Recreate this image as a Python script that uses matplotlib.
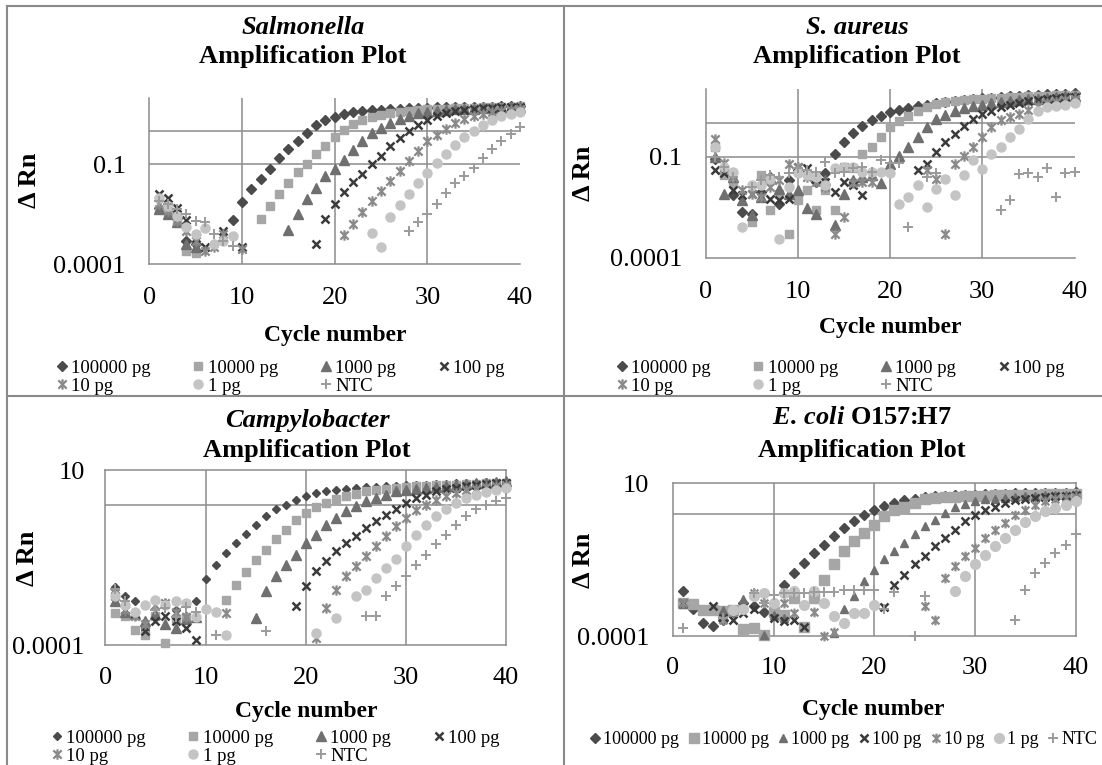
import numpy as np
import matplotlib
matplotlib.use('Agg')
import matplotlib.pyplot as plt
from matplotlib.lines import Line2D
from matplotlib.path import Path
from matplotlib.ticker import NullLocator

plt.rcParams['font.family'] = ['Liberation Serif', 'DejaVu Serif']
plt.rcParams['mathtext.fontset'] = 'custom'
plt.rcParams['mathtext.it'] = 'Liberation Serif:italic:bold'
plt.rcParams['mathtext.rm'] = 'Liberation Serif:bold'

nan = np.nan
cycles = np.arange(1, 41)
labels = ['100000 pg', '10000 pg', '1000 pg', '100 pg', '10 pg', '1 pg', 'NTC']

# ---- Salmonella (delta Rn per cycle, nan = not plotted)
sal_100000 = [5e-3, 3.5e-3, 2.5e-3, 5e-4, 4e-4, nan, nan, nan, 2.1e-3, 7.2e-3,
              0.018, 0.037, 0.071, 0.15, 0.28, 0.51, 0.89, 1.5, 2.1, 2.7,
              3.2, 3.6, 3.9, 4.2, 4.4, 4.6, 4.7, 4.8, 4.9, 5.0,
              5.1, 5.1, 5.2, 5.3, 5.3, 5.4, 5.4, 5.5, 5.5, 5.6]
sal_10000 = [4.5e-3, 3.2e-3, 1.8e-3, 2.5e-4, 2.2e-4, nan, nan, nan, nan, nan,
             nan, 2.3e-3, 5.5e-3, 0.013, 0.028, 0.058, 0.1, 0.2, 0.36, 0.65,
             1.1, 1.6, 2.1, 2.6, 3.1, 3.5, 3.8, 4.1, 4.3, 4.5,
             4.6, 4.7, 4.8, 4.9, 5.0, 5.1, 5.2, 5.3, 5.4, 5.5]
sal_1000 = [4.5e-3, 3.2e-3, 1.8e-3, 4e-4, 3.2e-4, nan, nan, nan, nan, nan,
            nan, nan, nan, nan, 1.05e-3, 3.2e-3, 8.9e-3, 0.02, 0.045, 0.075,
            0.135, 0.27, 0.5, 0.87, 1.26, 1.7, 2.3, 2.9, 3.4, 3.8,
            4.1, 4.3, 4.5, 4.6, 4.7, 4.8, 4.9, 5.0, 5.1, 5.2]
sal_100 = [0.0126, 0.01, 5e-3, 2.1e-3, 6.3e-4, 3.2e-4, nan, 1e-3, nan, 3.2e-4,
           nan, nan, nan, nan, nan, nan, nan, 4.2e-4, 2.3e-3, 6.5e-3,
           0.0145, 0.029, 0.05, 0.1, 0.18, 0.35, 0.62, 0.98, 1.55, 2.2,
           2.75, 3.4, 4.0, 4.3, 4.6, 4.8, 5.0, 5.1, 5.3, 5.4]
sal_10 = [6.3e-3, 4e-3, 2e-3, 1e-3, 5e-4, 2.5e-4, 3.2e-4, 8e-4, nan, 2.8e-4,
          nan, nan, nan, nan, nan, nan, nan, nan, nan, nan,
          7.4e-4, 1.6e-3, 3.6e-3, 8.1e-3, 0.016, 0.032, 0.063, 0.126, 0.25, 0.49,
          0.78, 1.17, 1.74, 2.3, 2.9, 3.3, 3.7, 4.1, 4.4, 4.7]
sal_1 = [0.01, 5.8e-3, 2.9e-3, 1.3e-3, 8.1e-4, 1.26e-3, 4e-4, 5e-4, 6.9e-4, nan,
         nan, nan, nan, nan, nan, nan, nan, nan, nan, nan,
         nan, nan, nan, 8.7e-4, 3.2e-4, 2.6e-3, 6.2e-3, 0.013, 0.028, 0.054,
         0.107, 0.2, 0.38, 0.65, 1.0, 1.5, 2.1, 2.75, 3.3, 3.8]
sal_ntc = [7.9e-3, 6.3e-3, 4.6e-3, 3.2e-3, 2e-3, 1.8e-3, 8.1e-4, 5e-4, 3.5e-4, nan,
           nan, nan, nan, nan, nan, nan, nan, nan, nan, nan,
           nan, nan, nan, nan, nan, nan, nan, 1e-3, 1.8e-3, 3.2e-3,
           6.5e-3, 0.014, 0.027, 0.045, 0.079, 0.16, 0.28, 0.49, 0.83, 1.3]

# ---- S. aureus
aur_100000 = [0.087, 0.032, 7.1e-3, 2.3e-3, 2e-3, 8.9e-3, 0.025, 4e-3, 0.02, 0.04,
              0.035, 0.018, 0.032, 0.12, 0.27, 0.52, 0.83, 1.23, 1.66, 2.1,
              2.45, 2.75, 3.2, 3.5, 4.0, 4.3, 4.6, 4.9, 5.1, 5.4,
              5.6, 5.9, 6.2, 6.3, 6.6, 6.8, 7.1, 7.2, 7.4, 7.6]
aur_10000 = [0.19, 0.028, 0.016, nan, 1.15e-3, 0.028, 2.6e-3, 7.9e-3, 5e-4, 5e-3,
             0.01, 2.6e-3, 0.01, 2.6e-3, 0.049, 0.045, 0.12, 0.19, 0.38, 0.74,
             1.17, 1.66, 2.3, 3.0, 3.6, 4.2, 4.6, 4.9, 5.1, 5.2,
             5.4, 5.6, 5.8, 6.0, 6.2, 6.3, 6.5, 6.6, 6.8, 7.0]
aur_1000 = [0.098, 7.9e-3, 0.025, 5e-3, 1.8e-3, 6.3e-3, 0.025, 0.011, 7.9e-3, 0.01,
            2.9e-3, 2e-3, 0.02, 9.3e-4, 7.9e-3, 0.02, 0.025, 0.028, 0.016, 0.062,
            0.107, 0.19, 0.38, 0.78, 1.3, 1.7, 2.3, 2.75, 3.1, 3.5,
            3.8, 4.1, 4.4, 4.7, 5.0, 5.3, 5.6, 5.9, 6.2, 6.5]
aur_100 = [0.039, 0.032, 0.01, 7.1e-3, 7.9e-3, 6.3e-3, 5.6e-3, 5e-3, 5.6e-3, 0.049,
           0.045, 0.022, 0.018, 8.9e-3, 0.018, 0.014, 7.1e-3, nan, nan, nan,
           nan, nan, 0.039, 0.062, 0.135, 0.27, 0.47, 0.83, 1.3, 1.9,
           2.3, 2.9, 3.5, 4.0, 4.5, 4.9, 5.2, 5.5, 5.8, 6.0]
aur_10 = [0.34, 0.063, 0.025, 0.01, 7.9e-3, 6.3e-3, 0.0126, 0.02, 0.062, 0.049,
          0.025, 0.018, 0.0126, 5e-4, 1.6e-3, 0.016, 0.018, 0.018, nan, nan,
          nan, nan, nan, 0.039, 0.022, 5e-4, 0.062, 0.107, 0.19, 0.38,
          0.74, 1.23, 1.48, 1.9, 2.5, 3.2, 3.8, 4.3, 4.7, 5.1]
aur_1 = [0.19, 0.049, 0.035, 8.3e-4, 0.014, 0.014, 0.022, 3.7e-4, 0.0126, 0.032,
         0.028, 0.025, 0.014, 0.045, 0.049, 0.049, 0.035, 0.035, 0.035, 0.032,
         4e-3, 6.3e-3, 0.014, 3.2e-3, 0.011, 0.022, 7.1e-3, 0.028, 0.078, 0.044,
         0.12, 0.19, 0.38, 0.66, 1.3, 2.2, 2.9, 3.2, 3.5, 3.8]
aur_ntc = [0.1, 0.049, 0.025, nan, 0.0126, 0.02, 0.028, 0.025, 0.032, 0.045,
           0.04, 0.035, 0.071, 0.032, 0.035, 0.045, 0.05, 0.035, 0.079, 0.063,
           0.063, 8.3e-4, nan, 0.025, 0.032, nan, nan, nan, nan, nan,
           nan, 2.6e-3, 5e-3, 0.031, 0.032, 0.025, 0.045, 6.3e-3, 0.032, 0.035]

# ---- Campylobacter
cam_100000 = [4.7e-3, 2.5e-3, 1.8e-3, 2.8e-4, 2e-3, 1.6e-3, 1.05e-3, 6.8e-4, 1.8e-3, 7.6e-3,
              0.02, 0.044, 0.083, 0.155, 0.28, 0.49, 0.76, 1.05, 1.45, 1.9,
              2.2, 2.5, 2.8, 3.0, 3.1, 3.3, 3.4, 3.5, 3.6, 3.7,
              3.8, 3.9, 4.0, 4.1, 4.2, 4.3, 4.4, 4.5, 4.6, 4.7]
cam_10000 = [8.3e-4, 7e-4, 2.8e-4, 2e-4, 6.8e-4, 1.2e-4, 5.6e-4, 6.3e-4, nan, nan,
             nan, 2e-3, 5.4e-3, 0.0123, 0.027, 0.054, 0.11, 0.2, 0.37, 0.6,
             0.89, 1.17, 1.5, 1.8, 2.1, 2.5, 2.7, 2.9, 3.1, 3.3,
             3.5, 3.6, 3.7, 3.8, 3.9, 4.0, 4.1, 4.2, 4.3, 4.4]
cam_1000 = [1.8e-3, 8.9e-4, 8e-4, 5e-4, 8e-4, 4e-4, 3.2e-4, 5.6e-4, 6.3e-4, nan,
            nan, nan, nan, nan, 6e-4, 3.5e-3, 9.3e-3, 0.02, 0.039, 0.083,
            0.145, 0.28, 0.44, 0.68, 0.93, 1.3, 1.6, 2.0, 2.5, 2.8,
            3.0, 3.2, 3.4, 3.6, 3.8, 4.0, 4.2, 4.4, 4.6, 4.8]
cam_100 = [2.5e-3, 1e-3, 8e-4, 2.5e-4, 5e-4, 6.8e-4, 5e-4, 3.2e-4, 1.4e-4, nan,
           nan, nan, nan, nan, nan, nan, nan, nan, 1.35e-3, 5e-3,
           0.013, 0.025, 0.049, 0.083, 0.135, 0.22, 0.35, 0.54, 0.79, 1.17,
           1.6, 2.0, 2.5, 2.9, 3.2, 3.5, 3.8, 4.0, 4.2, 4.4]
cam_10 = [3.2e-3, 1e-3, 7e-4, 4e-4, 1.4e-3, 1.6e-3, 8.9e-4, 6.3e-4, nan, nan,
          nan, 8.3e-4, nan, nan, nan, nan, nan, nan, nan, nan,
          1.6e-4, 1.2e-3, 3.7e-3, 9.3e-3, 0.019, 0.036, 0.068, 0.13, 0.25, 0.44,
          0.72, 1.05, 1.45, 1.8, 2.2, 2.8, 3.0, 3.3, 3.6, 3.9]
cam_1 = [2.5e-3, 1.4e-3, 8.9e-4, 1.4e-3, 2e-3, 1.4e-3, 1.8e-3, 1.6e-3, 6.3e-4, 1.1e-3,
         8.9e-4, 2e-4, nan, nan, nan, nan, nan, nan, nan, nan,
         2.2e-4, nan, 6e-4, nan, 2.5e-3, 3.9e-3, 8.3e-3, 0.016, 0.03, 0.07,
         0.14, 0.28, 0.5, 0.8, 1.2, 1.6, 2.0, 2.4, 2.8, 3.2]
cam_ntc = [4e-3, 1.8e-3, nan, nan, 1e-3, 1.2e-3, 6.3e-4, 1.26e-3, 8.9e-4, nan,
           2e-4, nan, nan, nan, nan, 2.5e-4, nan, nan, nan, nan,
           nan, nan, nan, nan, nan, 6.8e-4, 6.8e-4, 2.5e-3, 4.9e-3, 9.3e-3,
           0.02, 0.039, 0.076, 0.145, 0.28, 0.49, 0.76, 1.05, 1.3, 1.6]

# ---- E. coli O157:H7
eco_100000 = [3e-3, 8e-4, 2.7e-4, 2.2e-4, 3.5e-4, 6.3e-4, 1.2e-3, 1e-3, 6.3e-4, 8e-4,
              4.8e-3, 0.0117, 0.025, 0.052, 0.098, 0.19, 0.34, 0.56, 0.93, 1.35,
              1.8, 2.3, 2.7, 3.0, 3.5, 3.7, 3.9, 4.0, 4.1, 4.2,
              4.3, 4.4, 4.5, 4.6, 4.6, 4.7, 4.7, 4.8, 4.8, 4.9]
eco_10000 = [1.2e-3, 1.1e-3, 7.4e-4, 7.4e-4, 6.6e-4, 7.4e-4, 1.7e-4, 1.9e-4, 1.1e-4, 6.3e-4,
             5e-4, 1.8e-3, 2e-4, 1.8e-3, 7.1e-3, 0.022, 0.059, 0.126, 0.23, 0.44,
             0.81, 1.35, 1.7, 2.2, 2.9, 3.2, 3.4, 3.6, 3.7, 3.8,
             3.9, 4.0, 4.1, 4.1, 4.2, 4.2, 4.3, 4.3, 4.4, 4.4]
eco_1000 = [1.1e-3, nan, nan, nan, 7.4e-4, nan, 1.6e-3, nan, 1.1e-4, 5e-4,
            4e-4, nan, nan, nan, nan, 1.26e-4, 8e-4, 2e-3, 6.2e-3, 0.014,
            0.032, 0.059, 0.11, 0.21, 0.39, 0.63, 1.05, 1.6, 2.1, 2.5,
            2.9, 3.1, 3.3, 3.5, 3.7, 3.9, 4.0, 4.1, 4.2, 4.3]
eco_100 = [1.2e-3, nan, nan, 1e-3, 4e-4, 3.5e-4, 5.6e-4, 8e-4, nan, 4e-4,
           3.2e-4, 3.5e-4, 2e-4, nan, nan, nan, nan, nan, nan, nan,
           8.7e-4, 4.8e-3, 0.0102, 0.022, 0.041, 0.085, 0.16, 0.3, 0.56, 0.93,
           1.35, 1.7, 2.2, 2.7, 3.0, 3.2, 3.5, 3.7, 3.9, 4.2]
eco_10 = [1.2e-3, nan, nan, nan, 3.5e-4, 6.3e-4, nan, 2.5e-3, 1.26e-3, nan,
          1.26e-3, 5.6e-4, nan, 6.3e-4, 1e-4, 1.4e-4, nan, nan, nan, nan,
          nan, nan, nan, nan, 1e-3, 3.5e-4, 7.9e-3, 0.019, 0.041, 0.076,
          0.16, 0.3, 0.5, 0.93, 1.35, 1.95, 2.5, 2.9, 3.3, 3.6]
eco_1 = [nan, nan, nan, nan, nan, 7.1e-4, 8e-4, 2e-3, 2.6e-3, 1.2e-3,
         2.6e-3, 3e-3, 1.07e-3, 3e-3, 1.2e-3, 4.5e-4, 2.7e-4, 5.8e-4, 5.8e-4, 1.07e-3,
         nan, nan, nan, nan, nan, nan, nan, 3e-3, 9.1e-3, 0.022,
         0.046, 0.085, 0.16, 0.3, 0.52, 0.85, 1.2, 1.5, 1.95, 2.5]
eco_ntc = [1.9e-4, nan, nan, nan, 4e-4, nan, nan, 2.5e-3, 1.26e-3, 2.2e-3,
           2.5e-3, 2.5e-3, 2.5e-3, 2.8e-3, 2.8e-3, 2.8e-3, 3.2e-3, 3.2e-3, 3.2e-3, 3.2e-3,
           8e-4, 2.8e-3, nan, 1.05e-4, 2e-3, nan, nan, nan, nan, nan,
           nan, nan, nan, 3.5e-4, 3.3e-3, 0.0117, 0.025, 0.052, 0.098, 0.21]

W, H = 1102, 765
fig = plt.figure(figsize=(W / 100, H / 100), dpi=100)

grid_col = '#8c8c8c'
line_col = '#8a8a8a'

# excel "star" marker: x with a vertical bar through it
star = Path([(-0.8, -0.8), (0.8, 0.8), (-0.8, 0.8), (0.8, -0.8), (0, -1), (0, 1)],
            [Path.MOVETO, Path.LINETO, Path.MOVETO, Path.LINETO, Path.MOVETO, Path.LINETO])

markers = ['D', 's', '^', 'x', star, 'o', '+']
colors = ['#4b4b4b', '#a6a6a6', '#6f6f6f', '#3a3a3a', '#8a8a8a', '#c4c4c4', '#9b9b9b']
edge_w = [1.0, 1.0, 1.0, 1.8, 1.6, 1.0, 1.4]

# legend is filled column by column; this order gives the row-wise reading
leg_order = [0, 4, 1, 5, 2, 6, 3]


def fx(x):
    return x / W


def fy(y):
    return 1 - y / H


def add_panel(box, series, sizes, yticks, ytext, hgrid, boxed, xpad, ypad):
    left, top, right, bottom = box
    ax = fig.add_axes([fx(left), fy(bottom), (right - left) / W, (bottom - top) / H])
    for x in (10, 20, 30):
        ax.axvline(x, color=grid_col, lw=1.1, zorder=0)
    for y in hgrid:
        ax.axhline(y, color=grid_col, lw=1.1, zorder=0)
    handles = []
    for vals, lab, m, c, ew, ms in zip(series, labels, markers, colors, edge_w, sizes):
        h, = ax.plot(cycles, vals, linestyle='none', marker=m, ms=ms, color=c,
                     mfc=c, mec=c, mew=ew, clip_on=False, label=lab, zorder=3)
        handles.append(h)
    ax.set_yscale('log')
    ax.set_xlim(0, 40)
    ax.set_ylim(1e-4, 10)
    ax.set_xticks([0, 10, 20, 30, 40])
    ax.set_yticks(yticks, ytext)
    ax.yaxis.set_minor_locator(NullLocator())
    ax.tick_params(axis='x', length=0, pad=xpad, labelsize=19)
    ax.tick_params(axis='y', length=0, pad=ypad, labelsize=19)
    for side, sp in ax.spines.items():
        sp.set_color(grid_col)
        sp.set_linewidth(1.1)
        if side in ('top', 'right') and not boxed:
            sp.set_visible(False)
    ax.set_facecolor('none')
    return ax, handles


def titles(cx, y1, y2, species, italic=True):
    fig.text(fx(cx), fy(y1), species, ha='center', va='center', fontsize=19,
             fontstyle='italic' if italic else 'normal', fontweight='bold')
    fig.text(fx(cx), fy(y2), 'Amplification Plot', ha='center', va='center',
             fontsize=19, fontweight='bold')


def axis_labels(xl, yl):
    fig.text(fx(xl[0]), fy(xl[1]), 'Cycle number', ha='center', va='center',
             fontsize=17, fontweight='bold')
    fig.text(fx(yl[0]), fy(yl[1]), 'Δ Rn', ha='center', va='center', rotation=90,
             fontsize=19, fontweight='bold')


def four_col_legend(handles, x, y):
    fig.legend(handles=[handles[i] for i in leg_order], labels=[labels[i] for i in leg_order],
               loc='center left', bbox_to_anchor=(fx(x), fy(y)), ncol=4, frameon=False,
               fontsize=13.5, handlelength=0.7, handletextpad=0.15, columnspacing=2.2,
               labelspacing=0.05, borderpad=0, borderaxespad=0)


sizes_top = [5.5, 6, 6.5, 6, 7.5, 6.5, 7]

# Salmonella
ax1, h1 = add_panel((149.3, 97.7, 520, 264.3),
                    [sal_100000, sal_10000, sal_1000, sal_100, sal_10, sal_1, sal_ntc],
                    sizes_top, [1e-4, 0.1], ['0.0001', '0.1'], [0.1, 1], False, 16.5, 17)
titles(303, 27, 57, 'Salmonella')
axis_labels((335, 335), (30, 180))
four_col_legend(h1, 55, 377)

# S. aureus
ax2, h2 = add_panel((705.6, 89.3, 1074.5, 257.7),
                    [aur_100000, aur_10000, aur_1000, aur_100, aur_10, aur_1, aur_ntc],
                    sizes_top, [1e-4, 0.1], ['0.0001', '0.1'], [0.1, 1], False, 16.5, 17)
titles(857, 27, 57, 'S. aureus')
axis_labels((890, 328), (584, 173))
four_col_legend(h2, 615, 377)

# Campylobacter
ax3, h3 = add_panel((105.4, 470.3, 506, 645.3),
                    [cam_100000, cam_10000, cam_1000, cam_100, cam_10, cam_1, cam_ntc],
                    [4, 6, 6.5, 6, 7.5, 6.5, 7], [1e-4, 10], ['0.0001', '10'], [1], True, 15.5, 15)
titles(307, 420, 451, 'Campylobacter')
axis_labels((306, 711), (28, 558))
four_col_legend(h3, 50, 747)

# E. coli O157:H7
ax4, h4 = add_panel((673, 483, 1075.6, 636.3),
                    [eco_100000, eco_10000, eco_1000, eco_100, eco_10, eco_1, eco_ntc],
                    [5.5, 7.5, 6, 6, 7, 7, 6.5], [1e-4, 10], ['0.0001', '10'], [1], True, 15, 17)
titles(862, 418, 451, r'$\mathit{E.\,coli}$ O157:H7', italic=False)
axis_labels((873, 710), (584, 560))
fig.legend(handles=h4, labels=labels, loc='center', bbox_to_anchor=(fx(843), fy(740)),
           ncol=7, frameon=False, fontsize=13, handlelength=0.7, handletextpad=0.1,
           columnspacing=0.45, borderpad=0, borderaxespad=0)

# table borders around the four panels
for xs, ys in [((7, W), (6, 6)), ((7, 7), (6, H)), ((564, 564), (6, H)), ((7, W), (396, 396))]:
    fig.add_artist(Line2D([fx(xs[0]), fx(xs[1])], [fy(ys[0]), fy(ys[1])],
                          color=line_col, lw=1.5, zorder=10))

fig.savefig('out.png', dpi=100, facecolor='white')
